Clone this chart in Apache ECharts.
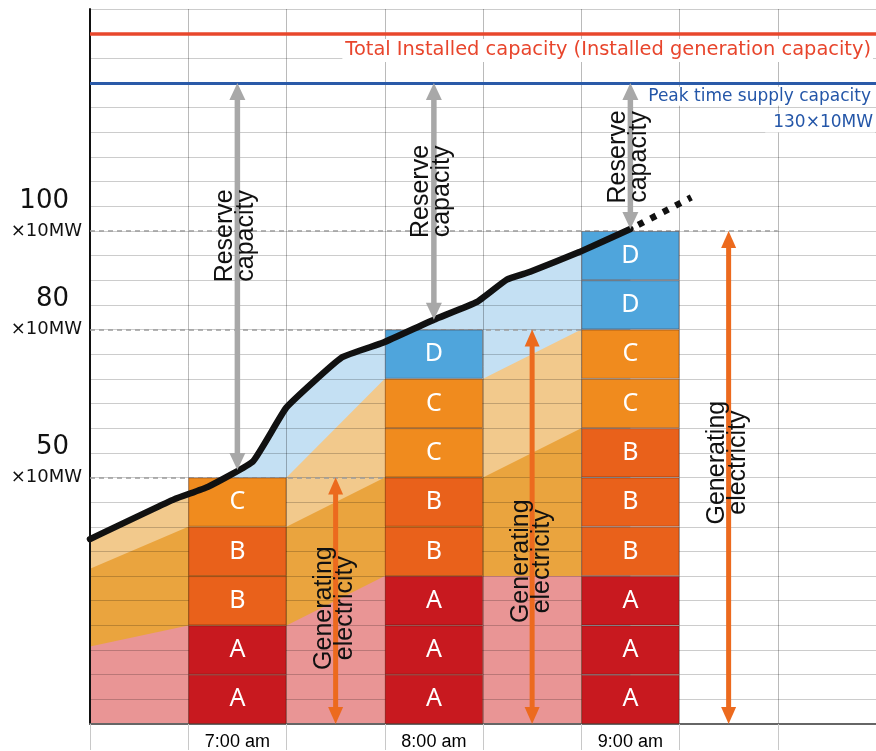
<!DOCTYPE html>
<html>
<head>
<meta charset="utf-8">
<title>Generating electricity and reserve capacity</title>
<script src="https://cdn.jsdelivr.net/npm/echarts@6/dist/echarts.min.js"></script>
<style>
  html, body { margin: 0; padding: 0; background: #fff; }
  #main { width: 876px; height: 751px; }
</style>
</head>
<body>
<div id="main"></div>
<script>
// ---- data (all values in ×10MW) ----
const timeSlots = ['', '7:00 am', '', '8:00 am', '', '9:00 am', '', ''];

// output of each plant group per time slot, stacked in blocks of one unit
const plantNames = ['A', 'B', 'C', 'D'];
const outputA = [null, 20, null, 30, null, 30, null, null];
const outputB = [null, 20, null, 20, null, 30, null, null];
const outputC = [null, 10, null, 20, null, 20, null, null];
const outputD = [null, 0, null, 10, null, 20, null, null];
const unitSize = 10;

// demand curve: hour of day and load
const demandHour = [6.25, 6.68, 6.85, 7.08, 7.25, 7.53, 7.74, 8.0, 8.22, 8.37, 8.49, 8.74, 9.0];
const demandLoad = [37.5, 45.6, 48.1, 53.3, 64.2, 74.3, 77.3, 82.0, 85.6, 90.1, 91.7, 95.7, 100.4];
const forecastHour = [9.04, 9.31];
const forecastLoad = [101.2, 106.8];

// transition bands between the time slots (top of each group)
const bandHour = [6.25, 6.75, 7.25, 7.75, 8.25, 8.75];
const bandA = [15.7, 20, 20, 30, 30, 30];
const bandB = [31.5, 40, 40, 50, 50, 60];
const bandC = [37.5, 46.5, 50, 70, 70, 80];

const installedCapacity = 140;
const peakSupply = 130;
const levelMarks = [50, 80, 100];

// ---- styling ----
const plantColors = ['#c8191f', '#e9611b', '#f08b1e', '#4fa5dc'];
const plantOutputs = [outputA, outputB, outputC, outputD];
const bandColors = { A: '#e99595', B: '#eaa43e', C: '#f2c98c', demand: '#c4e0f3' };
const slotHour = i => 6.5 + 0.5 * i;        // centre hour of a category slot
const edgeHour = i => 6.25 + 0.5 * i;       // left edge hour of a category slot

const totals = timeSlots.map((_, i) => plantOutputs.reduce((s, arr) => s + (arr[i] || 0), 0));

function demandAt(h) {
  for (let i = 1; i < demandHour.length; i++) {
    if (h <= demandHour[i]) {
      const t = (h - demandHour[i - 1]) / (demandHour[i] - demandHour[i - 1]);
      return demandLoad[i - 1] + t * (demandLoad[i] - demandLoad[i - 1]);
    }
  }
  return demandLoad[demandLoad.length - 1];
}

// stacked blocks: one series per unit level of each plant group
const barSeries = [];
plantNames.forEach((name, p) => {
  const vals = plantOutputs[p];
  const maxUnits = Math.max(...vals.map(v => v || 0)) / unitSize;
  for (let k = 0; k < maxUnits; k++) {
    barSeries.push({
      type: 'bar',
      name: name,
      stack: 'output',
      xAxisIndex: 0,
      yAxisIndex: 0,
      z: 5,
      barWidth: '100%',
      silent: true,
      data: vals.map(v => (v != null && v >= (k + 1) * unitSize) ? unitSize : '-'),
      itemStyle: { color: plantColors[p], borderColor: 'rgba(70,20,0,0.35)', borderWidth: 1 },
      label: {
        show: true, position: 'inside', formatter: name,
        color: '#ffffff', fontSize: 25, fontFamily: 'Noto Sans'
      }
    });
  }
});

function band(hours, values, color) {
  return {
    type: 'line', xAxisIndex: 1, yAxisIndex: 0, z: 1, silent: true,
    symbol: 'none',
    data: hours.map((h, i) => [h, values[i]]),
    lineStyle: { width: 0 },
    areaStyle: { color: color, opacity: 1 }
  };
}

const guide = { color: '#9c9c9c', width: 1.5, type: [5, 4] };
// dashed levels stop at the next taller slot
const levelEnds = levelMarks.map(lv => {
  const idx = totals.findIndex(t => t > lv);
  return idx >= 0 ? edgeHour(idx) : edgeHour(7);
});

const series = [
  band(demandHour, demandLoad, bandColors.demand),
  band(bandHour, bandC, bandColors.C),
  band(bandHour, bandB, bandColors.B),
  band(bandHour, bandA, bandColors.A),
  {
    type: 'line', xAxisIndex: 1, yAxisIndex: 0, z: 4, silent: true, data: [],
    markLine: {
      silent: true, symbol: ['none', 'none'], label: { show: false }, animation: false,
      data: [
        { yAxis: installedCapacity, lineStyle: { color: '#e8472c', width: 3.5, type: 'solid' } },
        { yAxis: peakSupply, lineStyle: { color: '#2a5aa8', width: 3, type: 'solid' } }
      ].concat(levelMarks.map((lv, i) => [
        { coord: [edgeHour(0), lv], lineStyle: guide },
        { coord: [levelEnds[i], lv] }
      ]))
    }
  }
].concat(barSeries).concat([
  {
    id: 'demand',
    type: 'line', xAxisIndex: 1, yAxisIndex: 0, z: 6, silent: true,
    symbol: 'none', smooth: 0.12,
    data: demandHour.map((h, i) => [h, demandLoad[i]]),
    lineStyle: { color: '#111111', width: 6.5, cap: 'round', join: 'round' }
  },
  {
    type: 'line', xAxisIndex: 1, yAxisIndex: 0, z: 6, silent: true,
    symbol: 'none',
    data: forecastHour.map((h, i) => [h, forecastLoad[i]]),
    lineStyle: { color: '#111111', width: 6.5, type: [6, 8], cap: 'butt' }
  }
]);

const option = {
  animation: false,
  backgroundColor: '#ffffff',
  grid: { left: 90, top: 9, width: 787, height: 717 },
  xAxis: [
    {
      type: 'category', data: timeSlots, z: 3,
      axisLine: { lineStyle: { color: '#666666', width: 2 } },
      axisTick: { show: true, interval: 0, length: 26, lineStyle: { color: '#c8c8c8', width: 1 } },
      axisLabel: { interval: 0, margin: 9, color: '#000000', fontSize: 18, fontFamily: 'Liberation Sans' },
      splitLine: { show: true, interval: 0, lineStyle: { color: 'rgba(0,0,0,0.27)', width: 1 } }
    },
    { type: 'value', min: 6.25, max: 10.25, show: false }
  ],
  yAxis: {
    type: 'value', min: 0, max: 145, interval: 5, z: 3,
    axisLine: { show: true, lineStyle: { color: '#111111', width: 2 } },
    axisTick: { show: false },
    splitLine: { show: true, lineStyle: { color: 'rgba(0,0,0,0.2)', width: 1 } },
    axisLabel: {
      margin: 8,
      formatter: v => levelMarks.includes(v) ? '{n|' + v + '}\n{u|×10MW}\n{s| }' : '',
      rich: {
        n: { fontSize: 26, lineHeight: 40, fontFamily: 'DejaVu Sans', color: '#111', padding: [0, 13, 0, 0] },
        u: { fontSize: 18, lineHeight: 20, fontFamily: 'DejaVu Sans', color: '#111' },
        s: { fontSize: 10, lineHeight: 40 }
      }
    }
  },
  series: series
};

const chart = echarts.init(document.getElementById('main'));
chart.setOption(option);

// ---- annotations: arrows and captions ----
const demandIdx = series.findIndex(s => s.id === 'demand');
const px = (h, v) => chart.convertToPixel({ seriesIndex: demandIdx }, [h, v]);

function vArrow(x, yTop, yBot, color, lw, hw, hl) {
  return [
    { type: 'line', z: 20, silent: true,
      shape: { x1: x, y1: yTop + hl - 1, x2: x, y2: yBot - hl + 1 },
      style: { stroke: color, lineWidth: lw } },
    { type: 'polygon', z: 20, silent: true,
      shape: { points: [[x, yTop], [x - hw / 2, yTop + hl], [x + hw / 2, yTop + hl]] },
      style: { fill: color } },
    { type: 'polygon', z: 20, silent: true,
      shape: { points: [[x, yBot], [x - hw / 2, yBot - hl], [x + hw / 2, yBot - hl]] },
      style: { fill: color } }
  ];
}

function vText(x, y, text) {
  return {
    type: 'text', x: x, y: y, rotation: Math.PI / 2, z: 30, silent: true,
    style: {
      text: text, fill: '#111111', fontSize: 25, fontFamily: 'Liberation Sans',
      align: 'center', verticalAlign: 'middle', lineHeight: 21
    }
  };
}

const graphics = [];
const barSlots = [1, 3, 5];
const reserveCaption = [99, 108, 115];
const generateCaption = [23.5, 33, 53];

barSlots.forEach((slot, i) => {
  const h = slotHour(slot);
  const top = px(h, peakSupply);
  const bot = px(h, demandAt(h));
  graphics.push(...vArrow(top[0], top[1], bot[1], '#a8a8a8', 5.5, 16, 17));
  const c = px(h, reserveCaption[i]);
  graphics.push(vText(c[0] - 2, c[1], 'Reserve\ncapacity'));

  const g = slotHour(slot + 1);
  const gTop = px(g, totals[slot]);
  const gBot = px(g, 0);
  graphics.push(...vArrow(gTop[0], gTop[1], gBot[1], '#ec6a1e', 5, 15, 17));
  const gc = px(g, generateCaption[i]);
  graphics.push(vText(gc[0] - 1, gc[1], 'Generating\nelectricity'));
});

const rightEdge = px(10.25, 0)[0] - 3;
graphics.push({
  type: 'text', z: 30, silent: true, x: rightEdge, y: px(10, 136.6)[1],
  style: {
    text: 'Total Installed capacity (Installed generation capacity)',
    fill: '#e8452c', fontSize: 19.4, fontFamily: 'DejaVu Sans',
    align: 'right', verticalAlign: 'middle',
    backgroundColor: '#ffffff', padding: [2, 2, 2, 3]
  }
});
graphics.push({
  type: 'text', z: 30, silent: true, x: rightEdge, y: px(10, 127.3)[1],
  style: {
    text: 'Peak time supply capacity',
    fill: '#2456a8', fontSize: 17, fontFamily: 'DejaVu Sans',
    align: 'right', verticalAlign: 'middle',
    backgroundColor: '#ffffff', padding: [1, 2, 1, 3]
  }
});
graphics.push({
  type: 'text', z: 30, silent: true, x: rightEdge + 2, y: px(10, 121.9)[1],
  style: {
    text: '130×10MW',
    fill: '#2456a8', fontSize: 17, fontFamily: 'DejaVu Sans',
    align: 'right', verticalAlign: 'middle',
    backgroundColor: '#ffffff', padding: [1, 2, 1, 8]
  }
});

chart.setOption({ graphic: { elements: graphics } });
</script>
</body>
</html>
